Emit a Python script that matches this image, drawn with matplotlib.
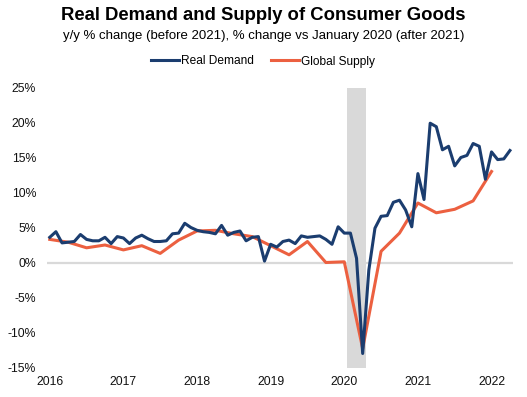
import matplotlib
matplotlib.use("Agg")
import matplotlib.pyplot as plt
import numpy as np
import pandas as pd

plt.rcParams['font.family'] = ['Liberation Sans', 'DejaVu Sans']

# Monthly real demand, Jan 2016 .. Apr 2022 (%)
demand_months = pd.date_range("2016-01-01", "2022-04-01", freq="MS")
demand = [3.6, 4.4, 2.8, 2.9, 3.0, 4.0, 3.3, 3.1, 3.1, 3.6, 2.7, 3.7,
          3.5, 2.7, 3.5, 3.9, 3.4, 3.0, 3.0, 3.1, 4.1, 4.2, 5.6, 5.0,
          4.6, 4.4, 4.3, 4.1, 5.3, 3.9, 4.3, 4.5, 3.1, 3.6, 3.7, 0.2,
          2.6, 2.2, 3.0, 3.2, 2.7, 3.8, 3.6, 3.7, 3.8, 3.3, 2.6, 5.1,
          4.2, 4.2, 0.6, -13.0, -1.1, 4.9, 6.6, 6.7, 8.6, 8.9, 7.5, 5.1,
          12.7, 9.0, 19.9, 19.4, 16.1, 16.6, 13.8, 15.0, 15.3, 17.0, 16.6, 11.9,
          15.8, 14.7, 14.8, 16.0]

# Quarterly global supply, Jan 2016 .. Jan 2022 (%)
supply_months = pd.date_range("2016-01-01", "2022-01-01", freq="3MS")
supply = [3.3, 2.9, 2.1, 2.5, 1.8, 2.4, 1.3, 3.2, 4.5, 4.6, 4.1, 3.7,
          2.4, 1.1, 3.0, 0.0, 0.1, -12.3, 1.6, 4.2, 8.5, 7.1, 7.6, 8.8, 13.0]

recession_start, recession_end = "2020-02-01", "2020-04-01"
years = list(range(2016, 2023))
y_ticks = [-15, -10, -5, 0, 5, 10, 15, 20, 25]

start = pd.Timestamp("2016-01-01")
def month_index(d):
    d = pd.DatetimeIndex(d)
    return (d.year - start.year) * 12 + (d.month - start.month)

xd = month_index(demand_months)
xs = month_index(supply_months)
rs = month_index([recession_start])[0]
re_ = month_index([recession_end])[0]

W, H = 527, 397
fig = plt.figure(figsize=(W / 100, H / 100), dpi=100)
left, right, top, bottom = 46.7, 513, 87.5, 367.5
ax = fig.add_axes([left / W, 1 - bottom / H, (right - left) / W, (bottom - top) / H])

navy = '#1b3d6f'
orange = '#ec6040'

ax.axvspan(rs - 0.5, re_ + 0.6, color='#d9d9d9', lw=0, zorder=0)
ax.axhline(0, color='#d9d9d9', lw=1.6, zorder=1)
ax.plot(xs, supply, color=orange, lw=2.2, zorder=2, label='Global Supply',
        solid_joinstyle='round')
ax.plot(xd, demand, color=navy, lw=2.2, zorder=3, label='Real Demand',
        solid_joinstyle='round')

ax.set_xlim(-0.5, 75.5)
ax.set_ylim(-15, 25)
ax.set_yticks(y_ticks)
ax.set_yticklabels([f"{v}%" for v in y_ticks], fontsize=8.8, color='#111111')
ax.set_xticks([(y - 2016) * 12 for y in years])
ax.set_xticklabels([str(y) for y in years], fontsize=8.8, color='#111111')
ax.tick_params(axis='both', length=0)
ax.tick_params(axis='y', pad=7.5)
ax.tick_params(axis='x', pad=6)
for s in ax.spines.values():
    s.set_visible(False)

fig.text(0.5, 1 - 15.5 / H, "Real Demand and Supply of Consumer Goods",
         ha='center', va='center', fontsize=13.3, fontweight='bold')
fig.text(0.5, 1 - 35.5 / H, "y/y % change (before 2021), % change vs January 2020 (after 2021)",
         ha='center', va='center', fontsize=9.5)

h, l = ax.get_legend_handles_labels()
leg = fig.legend([h[1], h[0]], [l[1], l[0]], loc='center', bbox_to_anchor=(263 / W, 1 - 61.5 / H),
                 ncol=2, frameon=False, fontsize=8.6, handlelength=2.3, handletextpad=0.17,
                 columnspacing=1.45)

fig.savefig("out.png", dpi=100)
